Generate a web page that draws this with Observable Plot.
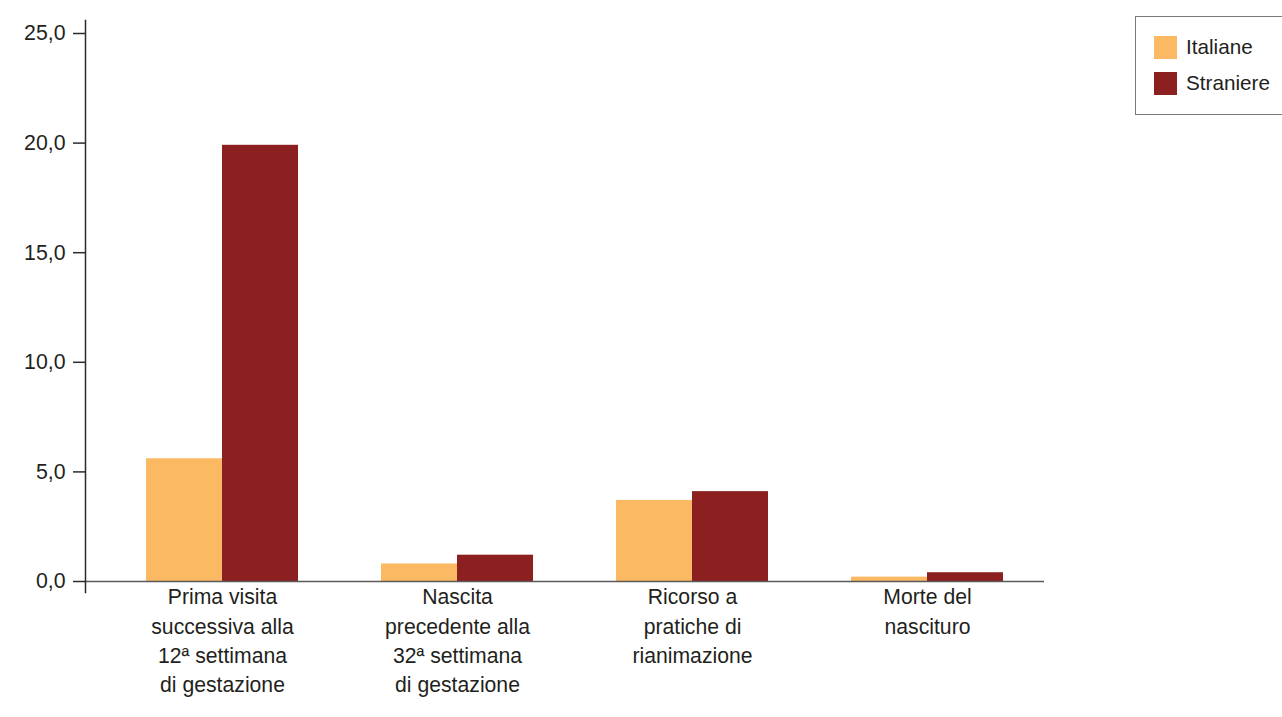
<!DOCTYPE html>
<html>
<head>
<meta charset="utf-8">
<script src="https://cdn.jsdelivr.net/npm/d3@7"></script>
<script src="https://cdn.jsdelivr.net/npm/@observablehq/plot@0.6"></script>
<style>
  html, body { margin: 0; padding: 0; background: #fff; }
  #wrap { position: relative; width: 1282px; height: 717px; overflow: hidden; font-family: "Liberation Sans", Arial, sans-serif; color: #231f20; }
  #legend { position: absolute; left: 1135px; top: 16px; width: 170px; height: 99px; border: 1px solid #7a7a7a; box-sizing: border-box; }
  .item { position: absolute; left: 18px; display: flex; align-items: center; font-size: 20.7px; }
  .sw { width: 23px; height: 23px; margin-right: 9px; }
</style>
</head>
<body>
<div id="wrap">
  <div id="chart"></div>
  <div id="legend"></div>
</div>
<script>
const categories = [
  "Prima visita\nsuccessiva alla\n12ª settimana\ndi gestazione",
  "Nascita\nprecedente alla\n32ª settimana\ndi gestazione",
  "Ricorso a\npratiche di\nrianimazione",
  "Morte del\nnascituro"
];
const seriesNames = ["Italiane", "Straniere"];
const italiane = [5.6, 0.8, 3.7, 0.2];
const straniere = [19.9, 1.2, 4.1, 0.4];
const yTicks = [0, 5, 10, 15, 20, 25];
const colors = ["#fbb964", "#8c1f1f"];

const rows = categories.map((c, i) => ({cat: c, italiane: italiane[i], straniere: straniere[i]}));
const fmt = d => d.toFixed(1).replace(".", ",");

const chart = Plot.plot({
  width: 1282,
  height: 717,
  marginLeft: 85,
  marginRight: 238,
  marginTop: 20,
  marginBottom: 125,
  style: {fontFamily: "'Liberation Sans', Arial, sans-serif", fontSize: "21px", color: "#231f20", background: "white"},
  x: {domain: categories, range: [104.5, 1044.5], paddingInner: 0.353, paddingOuter: 0.1765, axis: null},
  y: {domain: [0, 25], range: [581, 33], axis: null},
  marks: [
    Plot.barY(rows, {x: "cat", y: "italiane", fill: colors[0], insetRight: 76}),
    Plot.barY(rows, {x: "cat", y: "straniere", fill: colors[1], insetLeft: 76}),
    Plot.ruleY([0], {stroke: "#5a5a5a", strokeWidth: 1.5}),
    Plot.frame({anchor: "left", stroke: "#2b2b2b", strokeWidth: 1.5}),
    Plot.axisY(yTicks, {tickSize: 12, tickPadding: 8, tickFormat: fmt, stroke: "#2b2b2b", strokeWidth: 1.5, fill: "#231f20", fontSize: 21.3}),
    Plot.text(rows, {x: "cat", y: () => 0, text: "cat", lineAnchor: "top", dy: 2, lineHeight: 1.38, fill: "#231f20", fontSize: 21.2})
  ]
});
document.getElementById("chart").appendChild(chart);

const legend = document.getElementById("legend");
seriesNames.forEach((name, i) => {
  const it = document.createElement("div");
  it.className = "item";
  it.style.top = (18 + i * 36) + "px";
  const sw = document.createElement("div");
  sw.className = "sw";
  sw.style.background = colors[i];
  const t = document.createElement("span");
  t.textContent = name;
  it.appendChild(sw);
  it.appendChild(t);
  legend.appendChild(it);
});
</script>
</body>
</html>
